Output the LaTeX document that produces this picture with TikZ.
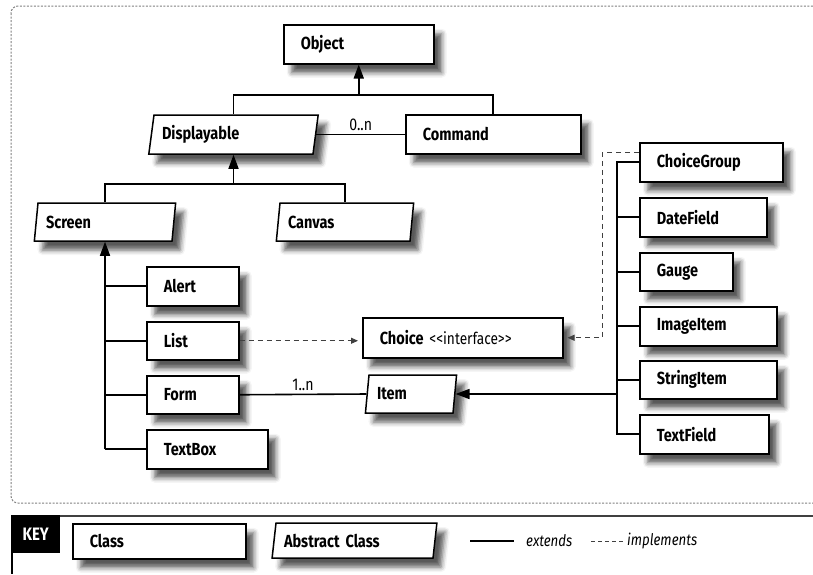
\documentclass[tikz,border=0pt]{standalone}
\usepackage{fontspec}
\setmainfont{Fira Sans}[FakeStretch=0.83]
\usetikzlibrary{shapes.geometric,arrows.meta,shadows.blur}
\begin{document}
\begin{tikzpicture}[x=1pt,y=-1pt,
  font=\fontsize{17.5}{19}\selectfont\bfseries,
  shd/.style={blur shadow={shadow xshift=8pt,shadow yshift=-9pt,shadow blur radius=5pt,shadow opacity=65}},
  clsbox/.style={shd, draw, line width=1.5pt, fill=white, rectangle, minimum height=39pt, inner xsep=17pt, inner ysep=0pt, align=left, text width=#1, anchor=north west},
  absbox/.style={shd, draw, line width=1.5pt, fill=white, trapezium, trapezium left angle=74, trapezium right angle=106, trapezium stretches=true, minimum height=39pt, inner xsep=8pt, inner ysep=0pt, align=left, text width=#1},
  conn/.style={line width=1.6pt},
  inh/.style={conn, -{Triangle[length=14pt,width=10pt]}},
  impl/.style={line width=1pt, black!75, dash pattern=on 5pt off 4pt, -{Triangle[length=7pt,width=6pt]}, shorten >=4pt},
  lbl/.style={font=\fontsize{17}{19}\selectfont\mdseries},
  lblit/.style={font=\fontsize{16}{18}\selectfont\mdseries\itshape}
]
\useasboundingbox (0,0) rectangle (813,574);
% frame
\draw[gray, line width=1pt, dash pattern=on 2pt off 1.5pt, rounded corners=7pt] (11,6) rectangle (840,503);

% nodes
\node[clsbox=116pt] (obj) at (283,24) {Object};
\node[clsbox=141pt] (cmd) at (405,114) {Command};
\node[absbox=143pt] (disp) at (233.5,134.5) {Displayable};
\node[absbox=118pt, minimum height=38pt] (scr) at (105,222) {Screen};
\node[absbox=114pt, minimum height=38pt] (can) at (345,222) {Canvas};
\node[clsbox=58pt] (alert) at (146,266) {Alert};
\node[clsbox=58pt, minimum height=38pt] (list) at (146,321) {List};
\node[clsbox=58pt, minimum height=38pt] (form) at (146,375) {Form};
\node[clsbox=87pt] (tbox) at (146,429) {TextBox};
\node[clsbox=166pt, minimum height=40pt] (choice) at (362,317) {Choice {\mdseries\fontsize{16.5}{18}\selectfont <{}<interface>{}>}};
\node[absbox=68pt, minimum height=38pt] (item) at (411,394) {Item};
\node[clsbox=109pt] (cg) at (639,142) {ChoiceGroup};
\node[clsbox=93pt] (df) at (639,197) {DateField};
\node[clsbox=59pt, minimum height=38pt] (gauge) at (639,252) {Gauge};
\node[clsbox=103pt] (ii) at (639,306) {ImageItem};
\node[clsbox=103pt, minimum height=38pt] (si) at (639,360) {StringItem};
\node[clsbox=95pt] (tf) at (639,414) {TextField};

% connectors
\coordinate (ylevA) at (0,95);
\draw[conn] (disp.north) |- (cmd.north |- ylevA) -- (cmd.north);
\draw[inh] (obj.south |- ylevA) -- (obj.south);
\draw[conn] (disp.east) -- (disp.east -| cmd.west) node[midway, above=0pt, lbl] {0..n};

\coordinate (ylevB) at (0,184);
\draw[conn] (scr.north) |- (can.north |- ylevB) -- (can.north);
\draw[inh] (disp.south |- ylevB) -- (disp.south);

\draw[inh] (tbox.west -| scr.south) -- (scr.south);
\foreach \n in {alert,list,form,tbox} \draw[conn] (\n.west) -- (\n.west -| scr.south);

\draw[impl] (list.east) -- (list.east -| choice.west);
\draw[conn] (form.east) -- (item.west) node[midway, above=0pt, lbl] {1..n};

\coordinate (xr) at (617,0);
\draw[conn] (cg.west) -- (cg.west -| xr) -- (tf.west -| xr) -- (tf.west);
\foreach \n in {df,gauge,ii,si} \draw[conn] (\n.west) -- (\n.west -| xr);
\draw[inh] (item.east -| xr) -- (item.east);
\coordinate (xd) at (602,0);
\draw[impl] ([yshift=9.5pt]cg.west) -| (choice.east -| xd) -- (choice.east);

% key
\draw[line width=1.3pt, black!75] (11,516) -- (813,516);
\node[fill=black, text=white, minimum width=49pt, minimum height=38pt, inner sep=0pt, anchor=north west, font=\fontsize{18}{20}\selectfont\bfseries] (key) at (11,515) {KEY};
\coordinate (kb) at (12,574);
\draw[line width=1.5pt] (key.south west -| kb) -- (kb);
\node[clsbox=139pt, minimum height=35pt] (kclass) at (72,523) {Class};
\node[absbox=141pt, minimum height=35pt] (kabs) at (354.5,540.5) {Abstract Class};
\coordinate (e1) at (470,541);
\node[lblit, anchor=west, inner sep=0pt] (ext) at (526,541) {extends};
\draw[conn] (e1) -- ([xshift=-12pt]ext.west);
\coordinate (i1) at (591,541);
\node[lblit, anchor=west, inner sep=0pt] (imp) at (627,541) {implements};
\draw[line width=1pt, black!75, dash pattern=on 4pt off 3pt] (i1) -- ([xshift=-4pt]imp.west);
\end{tikzpicture}
\end{document}
